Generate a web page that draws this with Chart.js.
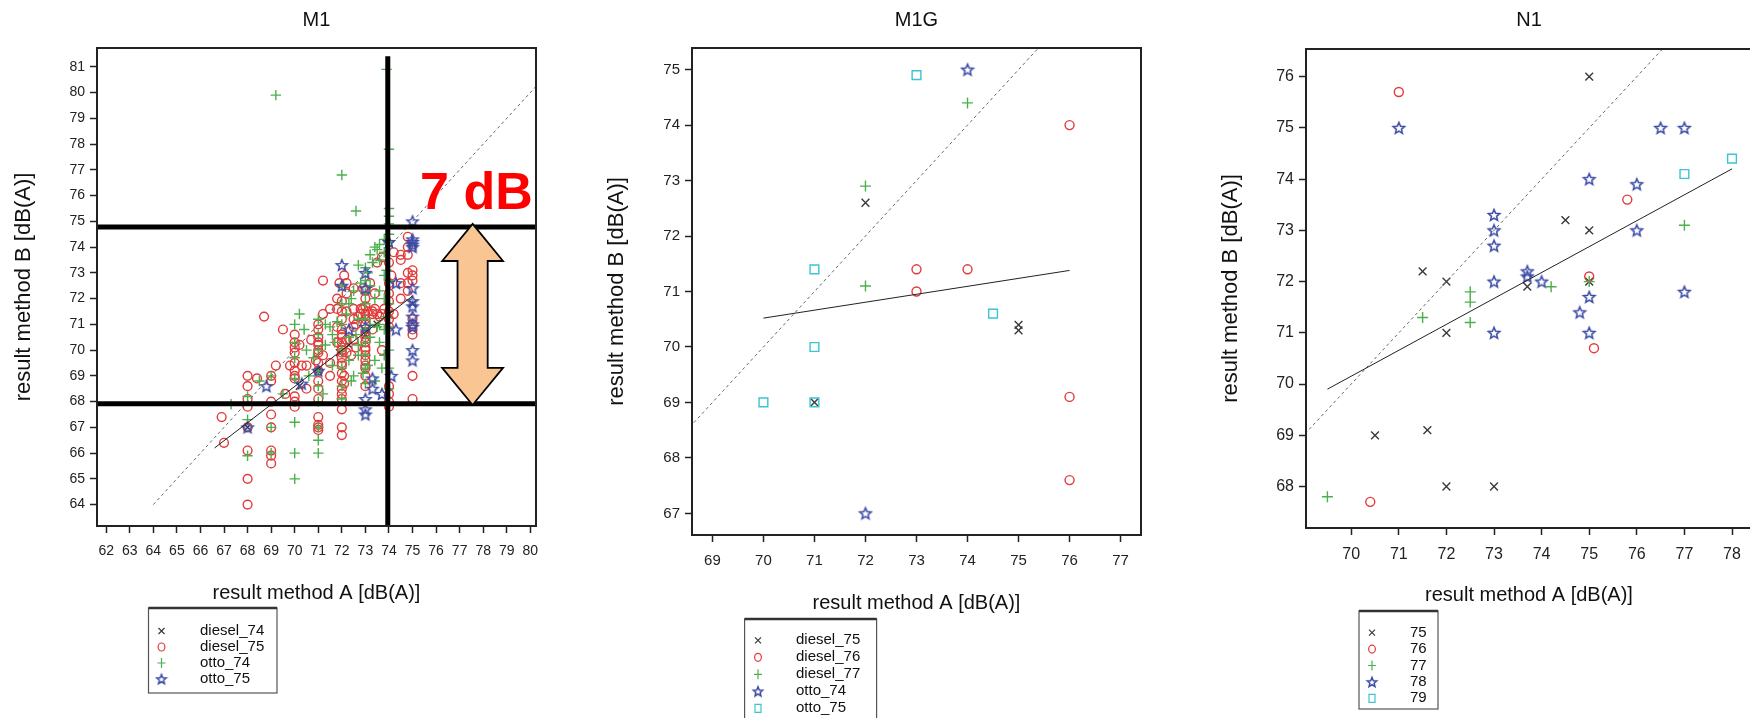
<!DOCTYPE html>
<html lang="en">
<head>
<meta charset="UTF-8" />
<title>M1 / M1G / N1 - result method A vs result method B</title>
<script src="https://cdn.jsdelivr.net/npm/chart.js@4.4.1/dist/chart.umd.min.js"></script>
<style>
  html, body { margin: 0; padding: 0; background: #fff; }
  #wrap { position: relative; width: 1750px; height: 718px; overflow: hidden; }
  canvas { position: absolute; top: 0; }
</style>
</head>
<body>
<div id="wrap">
  <canvas id="m1" width="580" height="718" style="left:0"></canvas>
  <canvas id="m1g" width="580" height="718" style="left:580px"></canvas>
  <canvas id="n1" width="620" height="718" style="left:1160px"></canvas>
</div>
<script>
// ---- M1 ----
const m1XTicks = [62, 63, 64, 65, 66, 67, 68, 69, 70, 71, 72, 73, 74, 75, 76, 77, 78, 79, 80];
const m1YTicks = [64, 65, 66, 67, 68, 69, 70, 71, 72, 73, 74, 75, 76, 77, 78, 79, 80, 81];
const m1Diesel74 = [[68,67.0],[70.2,68.6],[71,69.2],[71.9,69.9],[72.3,70.2],[73,70.6],[73.5,71.0],[74,71.4],[75,71.8]];
const m1Diesel75 = [
  [66.9,67.4],[67.0,66.4],
  [68,69.0],[68,68.6],[68,68.1],[68,67.8],[68,67.0],[68,66.1],[68,65.0],[68,64.0],
  [68.4,68.9],[68.7,71.3],
  [69,69.0],[69,68.8],[69,68.0],[69,67.5],[69,67.0],[69,66.1],[69,65.9],[69,65.6],
  [69.2,69.4],[69.5,70.8],[69.8,69.4],[69.6,68.3],
  [70,70.6],[70,70.3],[70,70.1],[70,69.9],[70,69.5],[70,69.2],[70,68.9],[70,68.0],[70,67.8],[70,68.2],[70,69.0],
  [70.3,69.4],[70.5,69.4],[70.5,68.5],[70.7,70.4],[70.2,70.2],[70.9,69.6],
  [71,71.0],[71,70.8],[71,70.5],[71,70.2],[71,69.9],[71,69.5],[71,69.2],[71,68.8],[71,68.5],[71,68.1],[71,67.4],[71,67.1],[71,67.0],[71,66.9],[71,70.0],[71,70.3],
  [71.2,72.7],[71.2,71.4],[71.2,69.8],[71.5,69.5],[71.5,69.0],[71.5,71.6],
  [71.8,72.0],[71.8,71.6],[71.8,70.9],[71.8,70.3],[71.9,72.6],
  [72,71.9],[72,71.5],[72,71.2],[72,70.8],[72,70.5],[72,70.3],[72,70.0],[72,69.7],[72,69.4],[72,69.1],[72,68.8],[72,68.5],[72,68.3],[72,68.1],[72,67.7],[72,67.0],[72,66.7],
  [72,70.6],[72,70.1],[72,69.9],[72,69.5],[72.1,69.0],[72.1,68.7],[72.1,72.9],
  [72.2,72.6],[72.2,72.2],[72.2,71.5],[72.2,70.4],[72.2,69.9],
  [72.4,69.8],[72.5,72.4],[72.5,71.6],[72.5,71.2],[72.5,70.9],[72.5,70.4],[72.6,71.0],[72.6,70.1],[72.7,71.3],
  [72.8,71.6],[72.8,71.4],[72.9,71.6],[72.9,72.4],
  [73,72.3],[73,72.0],[73,71.7],[73,71.4],[73,71.2],[73,71.0],[73,70.7],[73,70.3],[73,70.0],[73,69.6],[73,69.3],[73,69.0],[73,68.6],
  [73,70.5],[73,70.1],[73,69.8],[73,69.4],[73.1,71.5],[73.2,72.6],
  [73.3,71.4],[73.3,71.5],[73.3,70.8],[73.4,71.6],[73.4,72.2],[73.5,73.4],[73.5,71.4],
  [73.6,71.3],[73.7,73.6],[73.7,71.4],[73.7,70.0],[73.8,71.6],
  [74,72.6],[74,72.2],[74,71.9],[74,71.5],[74,71.2],[74,70.9],[74,68.6],[74,68.3],[74,68.0],[74,67.8],[74,73.4],[74.1,72.9],
  [74.2,71.4],[74.2,73.8],
  [74.5,73.7],[74.5,73.5],[74.5,72.6],[74.5,72.0],
  [74.8,74.4],[74.8,74.0],[74.8,73.7],[74.8,73.0],[74.8,72.6],[74.8,72.3],
  [75,73.1],[75,72.9],[75,72.7],[75,71.2],[75,71.0],[75,70.8],[75,70.6],[75,69.0],[75,68.1]
];
const m1Otto74 = [
  [67.3,67.9],[68,68.2],[68,67.3],[68,65.9],[68.5,68.8],
  [69,69.0],[69,67.0],[69,66.0],[69.2,79.9],[69.5,68.3],
  [70,71.0],[70,70.3],[70,69.7],[70,68.9],[70,67.2],[70,66.0],[70,65.0],
  [70.2,71.4],[70.4,70.8],[70.5,70.0],[70.6,69.0],[70.8,69.7],
  [71,71.2],[71,70.6],[71,70.0],[71,69.2],[71,68.6],[71,68.0],[71,67.0],[71,66.5],[71,66.0],[71.2,68.3],
  [71.3,71.0],[71.3,70.2],[71.5,70.9],[71.6,69.4],[71.6,70.6],[71.7,70.3],[71.8,71.1],
  [72,76.8],[72,72.5],[72,71.8],[72,71.0],[72,70.0],[72,69.3],[72,68.6],[72,68.1],
  [72.2,71.4],[72.3,71.8],[72.3,70.5],[72.3,69.6],[72.4,72.0],[72.4,68.8],[72.5,72.3],[72.5,69.0],[72.6,75.4],[72.6,70.6],
  [72.7,73.3],[72.7,71.2],[72.7,70.2],[72.7,69.8],[72.8,72.6],[72.9,69.1],
  [73,73.2],[73,72.7],[73,72.2],[73,71.8],[73,71.2],[73,70.8],[73,70.3],[73,69.8],[73,69.3],[73,68.7],
  [73.1,73.0],[73.1,69.4],[73.2,73.7],[73.2,72.5],[73.2,71.0],[73.2,70.5],
  [73.3,73.4],[73.4,74.0],[73.4,72.0],[73.4,69.6],[73.4,68.8],[73.5,73.9],[73.5,70.9],
  [73.6,74.1],[73.6,73.5],[73.6,72.3],[73.6,71.0],[73.6,70.3],[73.7,69.3],
  [73.8,74.3],[73.8,73.8],[73.8,72.9],[73.8,72.0],[73.8,70.8],[73.8,69.8],[73.9,71.3],[73.9,73.1],
  [73.9,80.9],[74,77.8],[74,75.5],[74,75.2],[74,74.9],[74,74.5],[74,74.2],[74,72.7],[74,71.8],[74,70.9],[74,70.0],[74,69.3],[74,68.5]
];
const m1Otto75 = [
  [68,67.0],[68.8,68.6],[70.3,68.7],[71,69.2],
  [72,73.3],[72,72.5],[72.3,70.8],
  [73,73.0],[73,72.4],[73,70.9],[73,68.1],[73,67.7],[73,67.5],
  [73.3,68.9],[73.3,68.5],[73.7,68.3],
  [74,74.2],[74.1,69.0],[74.3,72.6],[74.3,70.8],
  [75,75.0],[75,74.3],[75,74.2],[75,74.1],[75,74.0],[75,72.4],[75,71.9],[75,71.7],[75,71.3],[75,71.0],[75,70.9],[75,70.0],[75,69.6]
];
const m1Fit = [[66.6,66.2],[75,72.1]];
const m1Identity = [[64,64],[82,82]];

// ---- M1G ----
const m1gXTicks = [69, 70, 71, 72, 73, 74, 75, 76, 77];
const m1gYTicks = [67, 68, 69, 70, 71, 72, 73, 74, 75];
const m1gDiesel75 = [[71,69.0],[72,72.6],[75,70.4],[75,70.3]];
const m1gDiesel76 = [[73,71.4],[73,71.0],[74,71.4],[76,74.0],[76,69.1],[76,67.6]];
const m1gDiesel77 = [[72,72.9],[72,71.1],[74,74.4]];
const m1gOtto74 = [[74,75.0],[72,67.0]];
const m1gOtto75 = [[70,69.0],[71,69.0],[71,70.0],[71,71.4],[73,74.9],[74.5,70.6]];
const m1gFit = [[70,70.52],[76,71.38]];
const m1gIdentity = [[68,68],[76,76]];

// ---- N1 ----
const n1XTicks = [70, 71, 72, 73, 74, 75, 76, 77, 78];
const n1YTicks = [68, 69, 70, 71, 72, 73, 74, 75, 76];
const n1S75 = [[75,76.0],[71.5,72.2],[72,72.0],[72,71.0],[74.5,73.2],[75,73.0],[73.7,71.9],[75,72.0],[70.5,69.0],[71.6,69.1],[72,68.0],[73,68.0]];
const n1S76 = [[71,75.7],[75.8,73.6],[75,72.1],[75.1,70.7],[70.4,67.7]];
const n1S77 = [[69.5,67.8],[71.5,71.3],[72.5,71.8],[72.5,71.6],[72.5,71.2],[74.2,71.9],[75,72.0],[77,73.1]];
const n1S78 = [[71,75.0],[73,73.3],[73,73.0],[73,72.7],[73,72.0],[73,71.0],[73.7,72.2],[73.7,72.1],[74,72.0],[75,74.0],[75,71.7],[75,71.0],[74.8,71.4],[76,73.9],[76,73.0],[76.5,75.0],[77,75.0],[77,71.8]];
const n1S79 = [[77,74.1],[78,74.4]];
const n1Fit = [[69.5,69.9],[78,74.2]];
const n1Identity = [[68,68],[78,78]];

const FONT = '"Liberation Sans", Arial, Helvetica, sans-serif';
const COLORS = { x: '#3a3a3a', o: '#e23b3b', plus: '#4cb04c', star: '#3a4aa6', sq: '#3cc3d6' };
const STYLE = { x: 'crossRot', o: 'circle', plus: 'cross', sq: 'rect' };

function starCanvas(color, r) {
  const c = document.createElement('canvas');
  const s = Math.ceil(2 * r + 4);
  c.width = c.height = s;
  const g = c.getContext('2d');
  g.strokeStyle = color;
  g.lineWidth = 1.5;
  g.beginPath();
  for (let i = 0; i < 10; i++) {
    const rad = i % 2 ? r * 0.45 : r;
    const a = -Math.PI / 2 + i * Math.PI / 5;
    const px = s / 2 + rad * Math.cos(a), py = s / 2 + 0.5 + rad * Math.sin(a);
    if (i) g.lineTo(px, py); else g.moveTo(px, py);
  }
  g.closePath();
  g.stroke();
  return c;
}

const pts = pairs => pairs.map(p => ({ x: p[0], y: p[1] }));

function markerSet(label, pairs, kind, r, order) {
  const color = COLORS[kind];
  return {
    label, data: pts(pairs), order, showLine: false,
    pointStyle: kind === 'star' ? starCanvas(color, r) : STYLE[kind],
    pointRadius: r, pointHoverRadius: r,
    pointBorderColor: color, pointBackgroundColor: 'rgba(0,0,0,0)', pointBorderWidth: 1.4
  };
}

function lineSet(pairs, dashed) {
  return {
    data: pts(pairs), showLine: true, pointRadius: 0, order: 0,
    borderColor: dashed ? '#666' : '#222', borderWidth: 1, borderDash: dashed ? [3, 3] : []
  };
}

function drawSym(ctx, kind, x, y, r) {
  const color = COLORS[kind];
  ctx.save();
  ctx.strokeStyle = color;
  ctx.lineWidth = 1.2;
  if (kind === 'star') {
    const img = starCanvas(color, r + 1);
    ctx.drawImage(img, x - img.width / 2, y - img.height / 2);
  } else {
    ctx.beginPath();
    if (kind === 'x') {
      const d = r * 0.75;
      ctx.moveTo(x - d, y - d); ctx.lineTo(x + d, y + d);
      ctx.moveTo(x + d, y - d); ctx.lineTo(x - d, y + d);
    } else if (kind === 'o') {
      ctx.ellipse(x, y, r * 0.85, r, 0, 0, 2 * Math.PI);
    } else if (kind === 'plus') {
      ctx.moveTo(x - r, y); ctx.lineTo(x + r, y);
      ctx.moveTo(x, y - r - 1); ctx.lineTo(x, y + r + 1);
    } else if (kind === 'sq') {
      ctx.rect(x - r * 0.75, y - r, r * 1.5, r * 2);
    }
    ctx.stroke();
  }
  ctx.restore();
}

function makeDecor(cfg) {
  return {
    id: 'decor',
    afterDatasetsDraw(chart) {
      const { ctx, chartArea: a, scales: { x, y } } = chart;
      ctx.save();
      const m = cfg.marks;
      if (m) {
        ctx.strokeStyle = '#000';
        ctx.lineWidth = 5;
        ctx.beginPath();
        m.hLines.forEach(v => {
          const py = y.getPixelForValue(v);
          ctx.moveTo(a.left, py); ctx.lineTo(a.right, py);
        });
        const vx = x.getPixelForValue(m.vLine.x);
        ctx.moveTo(vx, y.getPixelForValue(m.vLine.top)); ctx.lineTo(vx, a.bottom);
        ctx.stroke();

        // double arrow
        const ar = m.arrow;
        const cx = x.getPixelForValue(ar.x);
        const hw = x.getPixelForValue(ar.x + ar.head) - cx;
        const sw = x.getPixelForValue(ar.x + ar.shaft) - cx;
        const yt = y.getPixelForValue(ar.y2), yb = y.getPixelForValue(ar.y1);
        const hl = y.getPixelForValue(ar.y2 - ar.headLen) - yt;
        const poly = [[cx, yt], [cx + hw, yt + hl], [cx + sw, yt + hl], [cx + sw, yb - hl], [cx + hw, yb - hl],
          [cx, yb], [cx - hw, yb - hl], [cx - sw, yb - hl], [cx - sw, yt + hl], [cx - hw, yt + hl]];
        ctx.beginPath();
        poly.forEach((p, i) => i ? ctx.lineTo(p[0], p[1]) : ctx.moveTo(p[0], p[1]));
        ctx.closePath();
        ctx.fillStyle = '#f9c593';
        ctx.fill();
        ctx.lineWidth = 1.8;
        ctx.stroke();

        ctx.fillStyle = '#ff0000';
        ctx.font = 'bold 52px ' + FONT;
        ctx.textAlign = 'left';
        ctx.textBaseline = 'alphabetic';
        ctx.fillText(m.label.text, x.getPixelForValue(m.label.x), y.getPixelForValue(m.label.y));
      }
      ctx.strokeStyle = '#222';
      ctx.lineWidth = 2;
      ctx.strokeRect(a.left, a.top, a.right - a.left, a.bottom - a.top);
      ctx.restore();
    },
    afterDraw(chart) {
      const { ctx, chartArea: a } = chart;
      ctx.save();
      ctx.fillStyle = '#111';
      ctx.font = '20px ' + FONT;
      ctx.textAlign = 'center';
      ctx.textBaseline = 'middle';
      ctx.fillText(cfg.title, (a.left + a.right) / 2, 20);

      const lg = cfg.legend;
      ctx.strokeStyle = '#555';
      ctx.lineWidth = 1.2;
      ctx.strokeRect(lg.x, lg.y, lg.w, lg.h);
      ctx.lineWidth = 2.5;
      ctx.strokeStyle = '#333';
      ctx.beginPath();
      ctx.moveTo(lg.x, lg.y); ctx.lineTo(lg.x + lg.w, lg.y);
      ctx.stroke();
      ctx.font = '15px ' + FONT;
      ctx.textAlign = 'left';
      ctx.fillStyle = '#111';
      cfg.items.forEach((it, i) => {
        const ry = lg.row0 + i * lg.step;
        drawSym(ctx, it.kind, lg.symX, ry, 4);
        ctx.fillText(it.label, lg.textX, ry);
      });
      ctx.restore();
    }
  };
}

function axis(ticksArr, min, max, fontSize, pad, extra) {
  return Object.assign({
    type: 'linear', min, max,
    afterBuildTicks: s => { s.ticks = ticksArr.map(v => ({ value: v })); },
    grid: { drawOnChartArea: false, drawTicks: true, tickLength: 7, tickWidth: 1.5, tickColor: '#222' },
    border: { display: false },
    ticks: { font: { family: FONT, size: fontSize }, color: '#222', autoSkip: false, maxRotation: 0, padding: pad }
  }, extra);
}

function makePanel(id, p) {
  const sets = p.series.map(s => markerSet(s.label, s.data, s.kind, s.r, s.order));
  sets.push(lineSet(p.fit, false), lineSet(p.identity, true));
  new Chart(document.getElementById(id), {
    type: 'scatter',
    data: { datasets: sets },
    options: {
      responsive: false,
      animation: false,
      events: [],
      layout: { padding: p.pad },
      plugins: { legend: { display: false }, tooltip: { enabled: false } },
      scales: {
        x: axis(p.xTicks, p.xMin, p.xMax, p.tickFont, 10, {
          afterFit: s => { s.height = 80; },
          title: { display: true, text: 'result method A [dB(A)]', color: '#111',
            font: { family: FONT, size: 20 }, padding: { top: 0, bottom: p.xTitlePad } }
        }),
        y: axis(p.yTicks, p.yMin, p.yMax, p.tickFont, 5, {
          afterFit: s => { s.width = p.yWidth; },
          title: { display: true, text: 'result method B [dB(A)]', color: '#111',
            font: { family: FONT, size: 22 }, padding: { top: p.yTitlePad, bottom: 0 } }
        })
      }
    },
    plugins: [makeDecor({
      title: p.title, marks: p.marks, legend: p.legend,
      items: p.series.map(s => ({ kind: s.kind, label: s.label }))
    })]
  });
}

makePanel('m1', {
  title: 'M1', xTicks: m1XTicks, yTicks: m1YTicks,
  xMin: 61.61, xMax: 80.24, yMin: 63.17, yMax: 81.73, tickFont: 14,
  pad: { top: 48, right: 44, bottom: 112, left: 0 }, yWidth: 97, yTitlePad: 11, xTitlePad: 1,
  series: [
    { label: 'diesel_74', data: m1Diesel74, kind: 'x', r: 5, order: 4 },
    { label: 'diesel_75', data: m1Diesel75, kind: 'o', r: 4.4, order: 3 },
    { label: 'otto_74', data: m1Otto74, kind: 'plus', r: 5.2, order: 2 },
    { label: 'otto_75', data: m1Otto75, kind: 'star', r: 5.8, order: 1 }
  ],
  fit: m1Fit, identity: m1Identity,
  marks: {
    hLines: [67.92, 74.78],
    vLine: { x: 73.95, top: 81.41 },
    arrow: { x: 77.55, y1: 67.87, y2: 74.9, head: 1.29, shaft: 0.64, headLen: 1.44 },
    label: { text: '7 dB', x: 75.32, y: 75.48 }
  },
  legend: { x: 148.5, y: 608, w: 128.5, h: 85, row0: 631, step: 16, symX: 161.5, textX: 200 }
});

makePanel('m1g', {
  title: 'M1G', xTicks: m1gXTicks, yTicks: m1gYTicks,
  xMin: 68.6, xMax: 77.4, yMin: 66.61, yMax: 75.39, tickFont: 15,
  pad: { top: 48, right: 19, bottom: 103, left: 0 }, yWidth: 112, yTitlePad: 24, xTitlePad: 0,
  series: [
    { label: 'diesel_75', data: m1gDiesel75, kind: 'x', r: 5.5, order: 5 },
    { label: 'diesel_76', data: m1gDiesel76, kind: 'o', r: 4.5, order: 4 },
    { label: 'diesel_77', data: m1gDiesel77, kind: 'plus', r: 5.5, order: 3 },
    { label: 'otto_74', data: m1gOtto74, kind: 'star', r: 6, order: 2 },
    { label: 'otto_75', data: m1gOtto75, kind: 'sq', r: 6.2, order: 1 }
  ],
  fit: m1gFit, identity: m1gIdentity,
  legend: { x: 164.6, y: 619, w: 132, h: 110, row0: 640.3, step: 17, symX: 178, textX: 216 }
});

makePanel('n1', {
  title: 'N1', xTicks: n1XTicks, yTicks: n1YTicks,
  xMin: 69.05, xMax: 78.42, yMin: 67.19, yMax: 76.54, tickFont: 16,
  pad: { top: 49, right: 28, bottom: 110, left: 0 }, yWidth: 146, yTitlePad: 58, xTitlePad: 1,
  series: [
    { label: '75', data: n1S75, kind: 'x', r: 5.5, order: 5 },
    { label: '76', data: n1S76, kind: 'o', r: 4.5, order: 4 },
    { label: '77', data: n1S77, kind: 'plus', r: 5.5, order: 3 },
    { label: '78', data: n1S78, kind: 'star', r: 6, order: 2 },
    { label: '79', data: n1S79, kind: 'sq', r: 6.2, order: 1 }
  ],
  fit: n1Fit, identity: n1Identity,
  legend: { x: 199, y: 611, w: 79, h: 98, row0: 632.7, step: 16.4, symX: 212, textX: 250 }
});
</script>
</body>
</html>
